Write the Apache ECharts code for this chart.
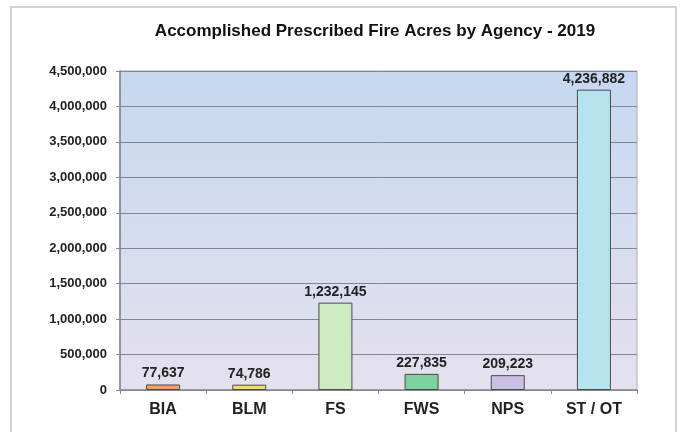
<!DOCTYPE html>
<html>
<head>
<meta charset="utf-8">
<script src="https://cdn.jsdelivr.net/npm/echarts@6/dist/echarts.min.js"></script>
<style>
  html, body { margin: 0; padding: 0; background: #fff; }
  #main { width: 686px; height: 432px; }
</style>
</head>
<body>
<div id="main"></div>
<script>
// data
var agencies = ['BIA', 'BLM', 'FS', 'FWS', 'NPS', 'ST / OT'];
var acres = [77637, 74786, 1232145, 227835, 209223, 4236882];
var barColors = ['#f2a461', '#f0dc72', '#cdecc2', '#7fd19e', '#ccbfe6', '#b5e3ee'];

function fmt(v) {
    return String(v).replace(/\B(?=(\d{3})+(?!\d))/g, ',');
}

var myChart = echarts.init(document.getElementById('main'));

var option = {
    backgroundColor: '#fff',
    animation: false,
    title: {
        text: 'Accomplished Prescribed Fire Acres by Agency - 2019',
        left: 370,
        textAlign: 'center',
        top: 18,
        textStyle: {
            fontFamily: 'Liberation Sans',
            fontSize: 17,
            fontWeight: 'bold',
            color: '#111'
        }
    },
    graphic: [{
        type: 'rect',
        shape: { x: 11, y: 7, width: 665, height: 440 },
        style: { fill: 'none', stroke: '#c4c4c4', lineWidth: 1.5 },
        silent: true
    }],
    grid: {
        left: 120,
        right: 49,
        top: 71,
        bottom: 42,
        show: true,
        borderColor: '#a9adb8',
        borderWidth: 1,
        backgroundColor: new echarts.graphic.LinearGradient(0, 0, 0, 1, [
            { offset: 0, color: '#c5d8f0' },
            { offset: 1, color: '#e5e0ee' }
        ])
    },
    xAxis: {
        type: 'category',
        data: agencies,
        axisLine: { lineStyle: { color: '#8a8a96', width: 1.5 } },
        axisTick: { show: true, length: 4, lineStyle: { color: '#8a8a96' } },
        axisLabel: {
            margin: 12,
            fontFamily: 'Liberation Sans',
            fontSize: 16,
            fontWeight: 'bold',
            color: '#222'
        }
    },
    yAxis: {
        type: 'value',
        min: 0,
        max: 4500000,
        interval: 500000,
        axisLine: { show: true, lineStyle: { color: '#7d8390', width: 1.5 } },
        axisTick: { show: true, length: 4, lineStyle: { color: '#8a8a96' } },
        splitLine: { lineStyle: { color: '#7f8694', width: 1 } },
        axisLabel: {
            margin: 13,
            fontFamily: 'Liberation Sans',
            fontSize: 13,
            fontWeight: 'bold',
            color: '#222',
            formatter: function (v) { return fmt(v); }
        }
    },
    series: [{
        type: 'bar',
        data: acres,
        barWidth: 34,
        itemStyle: {
            borderColor: '#4a4a4a',
            borderWidth: 1,
            color: function (p) { return barColors[p.dataIndex]; }
        },
        label: {
            show: true,
            position: 'top',
            distance: 4,
            fontFamily: 'Liberation Sans',
            fontSize: 14,
            fontWeight: 'bold',
            color: '#222',
            formatter: function (p) { return fmt(p.value); }
        }
    }]
};

myChart.setOption(option);
</script>
</body>
</html>
